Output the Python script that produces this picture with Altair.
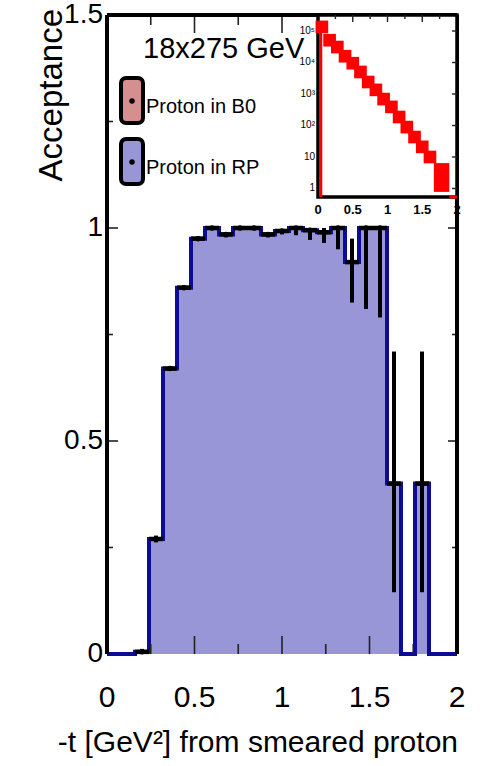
import altair as alt
import pandas as pd

# ---------------- data ----------------
bin_lo = [0.00, 0.08, 0.16, 0.24, 0.32, 0.40, 0.48, 0.56, 0.64, 0.72, 0.80, 0.88, 0.96,
          1.04, 1.12, 1.20, 1.28, 1.36, 1.44, 1.52, 1.60, 1.68, 1.76, 1.84, 1.92]
bin_hi = [0.08, 0.16, 0.24, 0.32, 0.40, 0.48, 0.56, 0.64, 0.72, 0.80, 0.88, 0.96, 1.04,
          1.12, 1.20, 1.28, 1.36, 1.44, 1.52, 1.60, 1.68, 1.76, 1.84, 1.92, 2.00]
acceptance = [0.0, 0.0, 0.005, 0.27, 0.67, 0.86, 0.975, 1.0, 0.985, 1.0, 1.0, 0.985, 0.993,
              1.0, 0.995, 0.99, 1.0, 0.92, 1.0, 1.0, 0.40, 0.0, 0.40, 0.0, 0.0]
acc_err_lo = [0.0, 0.0, 0.002, 0.262, 0.665, 0.855, 0.97, 0.995, 0.978, 0.995, 0.995, 0.978, 0.985,
              0.983, 0.972, 0.965, 0.95, 0.825, 0.81, 0.79, 0.145, 0.0, 0.145, 0.0, 0.0]
acc_err_hi = [0.0, 0.0, 0.012, 0.278, 0.675, 0.865, 0.98, 1.0, 0.99, 1.0, 1.0, 0.99, 0.997,
              1.0, 1.0, 1.0, 1.0, 0.975, 1.0, 1.0, 0.71, 0.0, 0.71, 0.0, 0.0]

x_labels = [0, 0.5, 1, 1.5, 2]
y_labels = [0, 0.5, 1, 1.5]
x_major = [0.5, 1.0, 1.5]
x_minor = [0.25, 0.75, 1.25, 1.75]
y_major = [0.5, 1.0]
y_minor = [0.25, 0.75, 1.25]

# inset (log-scale t distribution)
inset_t = [0.056, 0.167, 0.278, 0.389, 0.500, 0.611, 0.722, 0.833, 0.944, 1.056,
           1.167, 1.278, 1.389, 1.500, 1.611]
inset_counts = [135000, 51000, 31000, 15800, 9500, 5000, 2400, 1350, 690, 390,
                186, 89, 43, 21, 10]
inset_box_t = [1.667, 1.889]
inset_box_counts = [0.78, 6.4]
inset_x_labels = [0, 0.5, 1, 1.5, 2]
inset_x_major = [0.5, 1.0, 1.5]
inset_x_minor = [0.25, 0.75, 1.25, 1.75]
inset_decades = [1, 10, 100, 1000, 10000, 100000]
inset_decade_labels = ["1", "10", "10²", "10³", "10⁴", "10⁵"]

energy_label = "18x275 GeV"
legend_labels = ["Proton in B0", "Proton in RP"]
legend_colors = ["#d68f8f", "#9896d6"]

x_title = "-t [GeV²] from smeared proton"
y_title = "Acceptance"

# ---------------- styles ----------------
W, H = 350, 639
FONT = "Liberation Sans"
FILL = "#9896d6"
EDGE = "#0c0c94"

xs = alt.Scale(domain=[0, 2], nice=False, zero=False)
ys = alt.Scale(domain=[0, 1.5], nice=False, zero=False)

step_df = pd.DataFrame({"t": bin_lo + [2.0], "acc": acceptance + [acceptance[-1]]})
bins_df = pd.DataFrame({"lo": bin_lo, "hi": bin_hi, "acc": acceptance,
                        "elo": acc_err_lo, "ehi": acc_err_hi})
bins_df["c"] = (bins_df["lo"] + bins_df["hi"]) / 2
filled = bins_df[bins_df["acc"] > 0]

area = alt.Chart(step_df).mark_area(interpolate="step-after", color=FILL, opacity=1).encode(
    x=alt.X("t:Q", scale=xs, axis=None), y=alt.Y("acc:Q", scale=ys, axis=None))
outline = alt.Chart(step_df).mark_line(interpolate="step-after", color=EDGE, strokeWidth=4).encode(
    x=alt.X("t:Q", scale=xs, axis=None), y=alt.Y("acc:Q", scale=ys, axis=None))

hseg = alt.Chart(filled).mark_rule(color="black", strokeWidth=4.5).encode(
    x=alt.X("lo:Q", scale=xs, axis=None), x2="hi:Q", y=alt.Y("acc:Q", scale=ys, axis=None))
vbar = alt.Chart(filled).mark_rule(color="black", strokeWidth=4).encode(
    x=alt.X("c:Q", scale=xs, axis=None), y=alt.Y("elo:Q", scale=ys, axis=None), y2="ehi:Q")
dots = alt.Chart(filled).mark_circle(color="black", size=30, opacity=1).encode(
    x=alt.X("c:Q", scale=xs, axis=None), y=alt.Y("acc:Q", scale=ys, axis=None))

def xticks(vals, length):
    d = pd.DataFrame({"t": vals})
    b = alt.Chart(d).mark_rule(color="#222", strokeWidth=1.6).encode(
        x=alt.X("t:Q", scale=xs, axis=None), y=alt.value(H), y2=alt.value(H - length))
    t = alt.Chart(d).mark_rule(color="#222", strokeWidth=1.6).encode(
        x=alt.X("t:Q", scale=xs, axis=None), y=alt.value(0), y2=alt.value(length))
    return [b, t]

def yticks(vals, left_len, right_len):
    d = pd.DataFrame({"v": vals})
    l = alt.Chart(d).mark_rule(color="#222", strokeWidth=1.6).encode(
        y=alt.Y("v:Q", scale=ys, axis=None), x=alt.value(0), x2=alt.value(left_len))
    r = alt.Chart(d).mark_rule(color="#222", strokeWidth=1.6).encode(
        y=alt.Y("v:Q", scale=ys, axis=None), x=alt.value(W), x2=alt.value(W - right_len))
    return [l, r]

one = pd.DataFrame({"k": [0]})
frame_top = alt.Chart(one).mark_rule(color="black", strokeWidth=4).encode(
    x=alt.value(0), x2=alt.value(W), y=alt.value(0))
frame_left = alt.Chart(one).mark_rule(color="black", strokeWidth=4).encode(
    x=alt.value(0), y=alt.value(0), y2=alt.value(H))
frame_right = alt.Chart(one).mark_rule(color="black", strokeWidth=4).encode(
    x=alt.value(W), y=alt.value(0), y2=alt.value(H))

# tick labels and titles as text on the main scales
xl = alt.Chart(pd.DataFrame({"t": x_labels})).mark_text(
    font=FONT, fontSize=30, align="center", baseline="alphabetic", color="black").encode(
    x=alt.X("t:Q", scale=xs, axis=None), y=alt.value(H + 53), text=alt.Text("t:Q", format="~g"))
yl = alt.Chart(pd.DataFrame({"v": y_labels})).mark_text(
    font=FONT, fontSize=28, align="right", baseline="middle", color="black").encode(
    y=alt.Y("v:Q", scale=ys, axis=None), x=alt.value(-4), text=alt.Text("v:Q", format="~g"))
xt = alt.Chart(pd.DataFrame({"s": [x_title]})).mark_text(
    font=FONT, fontSize=30, align="right", baseline="alphabetic", color="black").encode(
    text="s:N", x=alt.value(W + 1), y=alt.value(H + 98))
yt = alt.Chart(pd.DataFrame({"s": [y_title]})).mark_text(
    font=FONT, fontSize=33, align="right", baseline="middle", angle=270, color="black").encode(
    text="s:N", x=alt.value(-55), y=alt.value(-6))

energy = alt.Chart(pd.DataFrame({"s": [energy_label]})).mark_text(
    font=FONT, fontSize=29, align="left", baseline="middle", color="black").encode(
    text="s:N", x=alt.value(36), y=alt.value(34))

legend_layers = []
for i, (lab, col) in enumerate(zip(legend_labels, legend_colors)):
    top = [63, 124][i]
    d = pd.DataFrame({"s": [lab]})
    legend_layers.append(alt.Chart(d).mark_rect(
        fill=col, stroke="black", strokeWidth=4, cornerRadius=5).encode(
        x=alt.value(14), x2=alt.value(36), y=alt.value(top), y2=alt.value(top + 45)))
    legend_layers.append(alt.Chart(d).mark_circle(color="black", size=30, opacity=1).encode(
        x=alt.value(25), y=alt.value(top + 23)))
    legend_layers.append(alt.Chart(d).mark_text(
        font=FONT, fontSize=20, align="left", baseline="middle", color="black").encode(
        text="s:N", x=alt.value(39), y=alt.value(top + 29)))

main = alt.layer(area, outline, hseg, vbar, dots,
                 *xticks(x_major, 18), *xticks(x_minor, 10),
                 *yticks(y_major, 11, 9), *yticks(y_minor, 6, 5),
                 frame_top, frame_left, frame_right, xl, yl, xt, yt, energy, *legend_layers)

# ---------------- inset ----------------
IX0, IX1, IY0, IY1 = 211, W, 0, 182
isx = alt.Scale(domain=[0, 2], range=[IX0, IX1], nice=False, zero=False)
isy = alt.Scale(type="log", domain=[0.537, 3.22e5], range=[IY1, IY0], nice=False)

inset_bg = alt.Chart(one).mark_rect(fill="white", stroke="black", strokeWidth=3.5).encode(
    x=alt.value(IX0), x2=alt.value(IX1), y=alt.value(IY0), y2=alt.value(IY1))
sq_df = pd.DataFrame({"t": inset_t, "n": inset_counts})
squares = alt.Chart(sq_df).mark_square(color="#ff0000", size=160, opacity=1).encode(
    x=alt.X("t:Q", scale=isx, axis=None), y=alt.Y("n:Q", scale=isy, axis=None))
box_df = pd.DataFrame({"t0": [inset_box_t[0]], "t1": [inset_box_t[1]],
                       "n0": [inset_box_counts[0]], "n1": [inset_box_counts[1]]})
bigbox = alt.Chart(box_df).mark_rect(color="#ff0000", opacity=1).encode(
    x=alt.X("t0:Q", scale=isx, axis=None), x2="t1:Q",
    y=alt.Y("n0:Q", scale=isy, axis=None), y2="n1:Q")
red_left = alt.Chart(pd.DataFrame({"t": [0.04], "n0": [0.537], "n1": [inset_counts[0]]})).mark_rule(
    color="#ff0000", strokeWidth=3).encode(
    x=alt.X("t:Q", scale=isx, axis=None), y=alt.Y("n0:Q", scale=isy, axis=None), y2="n1:Q")
red_bottom = alt.Chart(pd.DataFrame({"t0": [inset_box_t[1]], "t1": [2.0], "n": [0.537]})).mark_rule(
    color="#ff0000", strokeWidth=3).encode(
    x=alt.X("t0:Q", scale=isx, axis=None), x2="t1:Q", y=alt.Y("n:Q", scale=isy, axis=None))

def ixticks(vals, length):
    d = pd.DataFrame({"t": vals})
    return alt.Chart(d).mark_rule(color="#222", strokeWidth=1.4).encode(
        x=alt.X("t:Q", scale=isx, axis=None), y=alt.value(IY0), y2=alt.value(IY0 + length))

dec_df = pd.DataFrame({"n": inset_decades, "s": inset_decade_labels})
iyticks = alt.Chart(dec_df).mark_rule(color="#222", strokeWidth=1.4).encode(
    y=alt.Y("n:Q", scale=isy, axis=None), x=alt.value(IX1), x2=alt.value(IX1 - 5))
iylabels = alt.Chart(dec_df).mark_text(font=FONT, fontSize=10, align="right",
                                       baseline="middle", color="black").encode(
    y=alt.Y("n:Q", scale=isy, axis=None), x=alt.value(IX0 - 3), text="s:N")
ixl_df = pd.DataFrame({"t": inset_x_labels})
ixlabels = alt.Chart(ixl_df).mark_text(font=FONT, fontSize=13, fontWeight="bold",
                                       align="center", baseline="middle", color="black").encode(
    x=alt.X("t:Q", scale=isx, axis=None), y=alt.value(IY1 + 13), text=alt.Text("t:Q", format="~g"))

inset = alt.layer(inset_bg, squares, bigbox, red_left, red_bottom,
                  ixticks(inset_x_major, 7), ixticks(inset_x_minor, 4),
                  iyticks, iylabels, ixlabels)

chart = alt.layer(main, inset).resolve_scale(x="independent", y="independent").properties(
    width=W, height=H,
    padding={"left": 107, "top": 15, "right": 36, "bottom": 112},
    autosize=alt.AutoSizeParams(type="none"),
    background="white",
).configure_view(stroke=None)

chart.save("out.html", embed_options={"renderer": "svg", "actions": False})
